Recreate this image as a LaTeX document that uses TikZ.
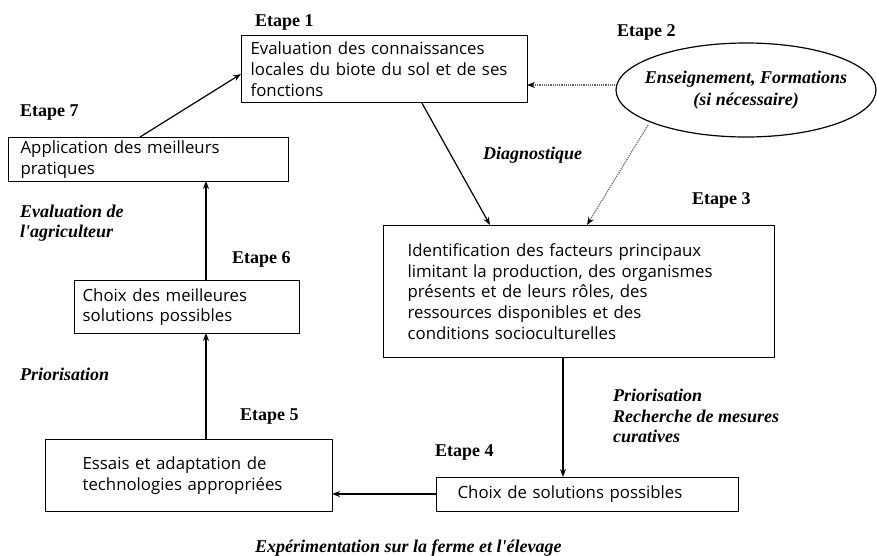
\documentclass[tikz,border=0pt]{standalone}
\usepackage{fontspec}
\setmainfont{Liberation Serif}
\newfontfamily\boxfont{Open Sans}
\usetikzlibrary{arrows.meta,shapes.geometric}
\begin{document}
\begin{tikzpicture}[x=1pt,y=-1pt,
  stepbox/.style={draw, line width=1.2pt, rectangle, anchor=north west, align=left,
    font=\boxfont\fontsize{16.8}{20.8}\selectfont, inner ysep=0pt},
  steplabel/.style={font=\bfseries\fontsize{18}{20}\selectfont, anchor=west, inner sep=0pt},
  flowlabel/.style={font=\itshape\bfseries\fontsize{18}{20.5}\selectfont, anchor=west, align=left, inner sep=0pt},
  flow/.style={line width=1.2pt, -{Stealth[length=8pt,width=6pt]}},
  hint/.style={line width=1.2pt, densely dotted, black!60, -{Stealth[length=8pt,width=6pt,black]}}]
\useasboundingbox (0,0) rectangle (877,555);

% steps
\node[stepbox, minimum width=286pt, minimum height=67pt, text width=268pt, inner xsep=9pt]
  (s1) at (241,35) {Evaluation des connaissances\\locales du biote du sol et de ses\\fonctions};
\node[draw, line width=1.2pt, ellipse, minimum width=260pt, minimum height=94pt,
  inner xsep=-10pt, inner ysep=0pt,
  align=center, font=\itshape\bfseries\fontsize{18}{22}\selectfont]
  (s2) at (746,90) {Enseignement, Formations\\(si nécessaire)};
\node[stepbox, minimum width=391pt, minimum height=132pt, text width=343pt, inner xsep=24pt]
  (s3) at (383,225) {Identification des facteurs principaux\\limitant la production, des organismes\\présents et de leurs rôles, des\\ressources disponibles et des\\conditions socioculturelles};
\node[stepbox, minimum width=302pt, minimum height=34pt, text width=260pt, inner xsep=21pt]
  (s4) at (436,477) {Choix de solutions possibles};
\node[stepbox, minimum width=287pt, minimum height=72pt, text width=213pt, inner xsep=37pt]
  (s5) at (45,439) {Essais et adaptation de\\technologies appropriées};
\node[stepbox, minimum width=225pt, minimum height=53pt, text width=209pt, inner xsep=8pt]
  (s6) at (74,280) {Choix des meilleures\\solutions possibles};
\node[stepbox, minimum width=268pt, minimum height=44pt, text width=256pt, inner xsep=12pt]
  (s7) at (8,137) {Application des meilleurs\\pratiques};

% step titles
\node[steplabel] (t1) at (255,22) {Etape 1};
\node[steplabel] (t2) at (617,32) {Etape 2};
\node[steplabel] (t3) at (692,200) {Etape 3};
\node[steplabel] (t4) at (435,452) {Etape 4};
\node[steplabel] (t5) at (240,417) {Etape 5};
\node[steplabel] (t6) at (232,259) {Etape 6};
\node[steplabel] (t7) at (20,113) {Etape 7};

% phase labels
\node[flowlabel] (l1) at (483,155) {Diagnostique};
\node[flowlabel] (l2) at (613,416) {Priorisation\\Recherche de mesures\\curatives};
\node[flowlabel] (l3) at (20,223) {Evaluation de\\l\textquotesingle agriculteur};
\node[flowlabel] (l4) at (20,374) {Priorisation};
\node[flowlabel] (l5) at (255,548) {Expérimentation sur la ferme et l\textquotesingle élevage};

% connectors
\coordinate (s7out) at (140,137);
\coordinate (s1in) at (241,74);
\draw[flow] (s7out) -- (s1in);
\draw[flow] (s1.south west) ++(181,0) coordinate (s1out) -- (490,225) coordinate (s3inA);
\draw[hint] (s2.west) ++(0,-5) coordinate (s2outA) -- (527,85) coordinate (s1inB);
\draw[hint] (648,125) coordinate (s2outB) -- (587,225) coordinate (s3inB);
\draw[flow] (563,357) coordinate (s3out) -- (563,477) coordinate (s4in);
\draw[flow] (s4.west |- 0,494) coordinate (s4out) -- (332,494) coordinate (s5in);
\draw[flow] (206,439) coordinate (s5out) -- (206,333) coordinate (s6in);
\draw[flow] (206,280) coordinate (s6out) -- (206,181) coordinate (s7in);
\end{tikzpicture}
\end{document}
